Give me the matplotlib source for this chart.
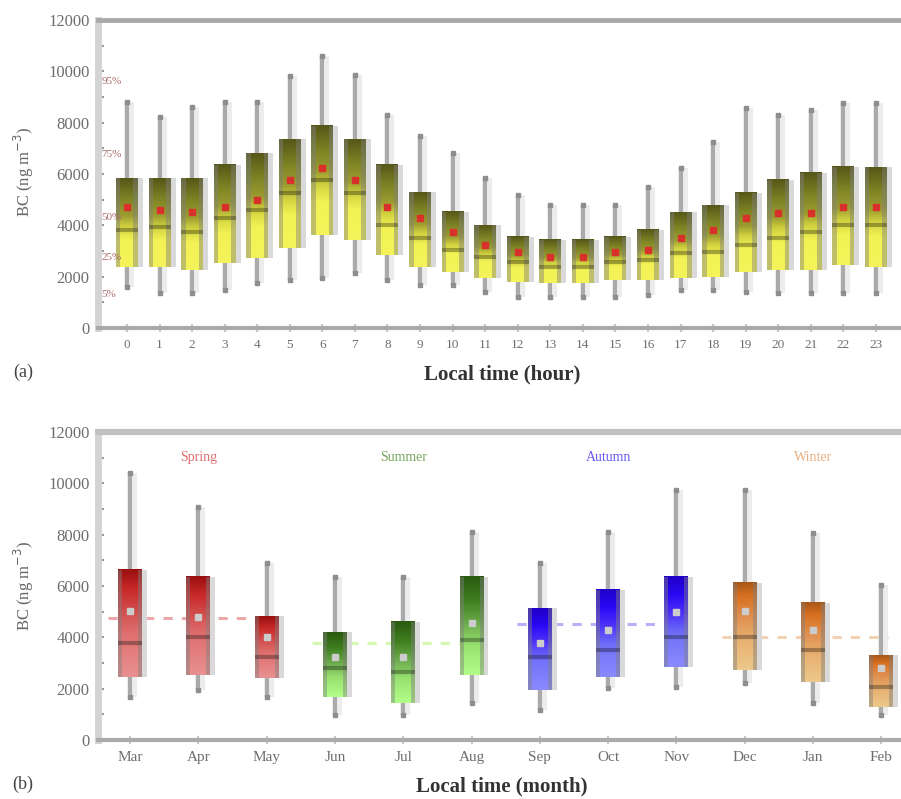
import matplotlib
matplotlib.use('Agg')
import matplotlib.pyplot as plt
import numpy as np
from matplotlib.colors import LinearSegmentedColormap
from matplotlib.patches import Rectangle

plt.rcParams['font.family'] = ['Liberation Serif', 'DejaVu Serif']

# ---- diurnal statistics of BC (ng m-3), hour 0..23 ----
hours = list(range(24))
hour_p95 = [8800, 8220, 8610, 8800, 8800, 9800, 10600, 9850, 8300, 7500, 6800, 5850,
            5180, 4800, 4800, 4800, 5500, 6230, 7250, 8570, 8300, 8500, 8770, 8770]
hour_p75 = [5840, 5840, 5840, 6350, 6820, 7350, 7870, 7360, 6350, 5300, 4520, 4010,
            3550, 3430, 3430, 3550, 3820, 4520, 4790, 5260, 5770, 6040, 6270, 6270]
hour_mean = [4710, 4600, 4520, 4710, 4990, 5770, 6230, 5770, 4710, 4290, 3740, 3230,
             2960, 2770, 2770, 2960, 3040, 3510, 3820, 4290, 4480, 4480, 4710, 4710]
hour_p50 = [3820, 3930, 3740, 4290, 4600, 5260, 5770, 5260, 4010, 3510, 3040, 2770,
            2570, 2380, 2380, 2570, 2650, 2920, 2960, 3230, 3510, 3740, 4010, 4010]
hour_p25 = [2380, 2380, 2260, 2530, 2730, 3120, 3620, 3430, 2840, 2380, 2180, 1950,
            1790, 1750, 1750, 1870, 1870, 1950, 1990, 2180, 2260, 2260, 2450, 2380]
hour_p5 = [1600, 1360, 1360, 1480, 1750, 1870, 1950, 2140, 1870, 1680, 1680, 1400,
           1210, 1210, 1210, 1210, 1290, 1480, 1480, 1400, 1360, 1360, 1360, 1360]

# ---- monthly statistics ----
months = ['Mar', 'Apr', 'May', 'Jun', 'Jul', 'Aug', 'Sep', 'Oct', 'Nov', 'Dec', 'Jan', 'Feb']
month_p95 = [10400, 9080, 6900, 6350, 6350, 8100, 6900, 8100, 9740, 9740, 8070, 6040]
month_p75 = [6620, 6350, 4830, 4210, 4600, 6350, 5140, 5840, 6350, 6120, 5340, 3310]
month_mean = [5030, 4790, 4010, 3230, 3230, 4560, 3780, 4290, 4990, 5030, 4290, 2810]
month_p50 = [3780, 4010, 3230, 2800, 2650, 3900, 3230, 3510, 4010, 4010, 3510, 2070]
month_p25 = [2450, 2530, 2420, 1680, 1440, 2530, 1950, 2450, 2840, 2730, 2260, 1290]
month_p5 = [1680, 1950, 1680, 970, 970, 1440, 1170, 2030, 2070, 2220, 1440, 970]

seasons = ['Spring', 'Summer', 'Autumn', 'Winter']
season_mean = [4750, 3780, 4520, 4010]

pct_labels = ['95%', '75%', '50%', '25%', '5%']
pct_label_y = [9600, 6750, 4300, 2750, 1300]

# colour ramps, bottom of box -> top of box
cmap_hour = LinearSegmentedColormap.from_list(
    'hour', [(0, '#f4f45a'), (0.3, '#f2f255'), (0.45, '#d2d240'), (0.58, '#9c9c30'),
             (0.78, '#7c8224'), (1.0, '#575718')])
season_cmaps = [
    LinearSegmentedColormap.from_list('spr', [(0, '#e89090'), (0.4, '#e07070'), (0.6, '#d25050'),
                                              (0.82, '#c82828'), (1.0, '#9a1010')]),
    LinearSegmentedColormap.from_list('sum', [(0, '#b2ff88'), (0.3, '#98e070'), (0.5, '#70b050'),
                                              (0.75, '#408020'), (1.0, '#2a5a10')]),
    LinearSegmentedColormap.from_list('aut', [(0, '#8a8aff'), (0.35, '#7272f8'), (0.6, '#4c30f8'),
                                              (0.8, '#2a08f5'), (1.0, '#2000c8')]),
    LinearSegmentedColormap.from_list('win', [(0, '#ecc88a'), (0.35, '#e8b070'), (0.6, '#e09050'),
                                              (0.85, '#d87020'), (1.0, '#a85818')]),
]
season_text_colors = ['#e07070', '#78a860', '#6a5cf5', '#e8b080']
season_line_colors = ['#eaa8a8', '#d4f8b0', '#b8b0fa', '#f2d2b2']

grad = np.linspace(0, 1, 64).reshape(-1, 1)


def draw_box(ax, x, lo, q1, med, q3, hi, mean, cmap, px, mean_color,
             w_out=22, w_in=13, shift=5):
    # shadow whisker and whisker
    ax.plot([x + shift * px] * 2, [lo, hi], color='#ececec', lw=3, zorder=1,
            solid_capstyle='butt')
    ax.plot([x, x], [lo, hi], color='#aaaaaa', lw=3.2, zorder=2, solid_capstyle='butt')
    ax.plot([x, x], [lo, hi], 's', color='#8e8e8e', ms=3, zorder=2)
    # light shadow box
    ax.add_patch(Rectangle((x - w_out / 2 * px + shift * px, q1), w_out * px, q3 - q1,
                           fc='#d9d9d9', ec='none', zorder=2))
    # coloured box
    ax.imshow(grad, extent=(x - w_out / 2 * px, x + w_out / 2 * px, q1, q3), cmap=cmap,
              aspect='auto', origin='lower', zorder=3, interpolation='bilinear')
    side = (w_out - w_in) / 2 * px
    for x0 in (x - w_out / 2 * px, x + w_in / 2 * px):
        ax.add_patch(Rectangle((x0, q1), side, q3 - q1, fc='#808080', alpha=0.45,
                               ec='none', zorder=4))
    ax.plot([x - w_out / 2 * px, x + w_out / 2 * px], [med, med], color='k', alpha=0.3,
            lw=3, zorder=5, solid_capstyle='butt')
    ax.plot(x, mean, 's', color=mean_color, ms=5, zorder=6)


def style_axes(ax, top_color, top_lw):
    ax.set_ylim(0, 12000)
    ax.set_yticks(range(0, 12001, 2000))
    ax.set_yticks(range(1000, 12000, 2000), minor=True)
    ax.spines['right'].set_visible(False)
    ax.spines['top'].set_color(top_color)
    ax.spines['top'].set_linewidth(top_lw)
    ax.spines['bottom'].set_color('#aaaaaa')
    ax.spines['bottom'].set_linewidth(3)
    ax.spines['left'].set_color('#d4d4d4')
    ax.spines['left'].set_linewidth(5)
    ax.tick_params(axis='y', which='both', direction='in', length=4, width=1.5,
                   color='#999999', labelsize=12, labelcolor='#6e6e6e', pad=6)
    ax.tick_params(axis='x', direction='inout', length=6, width=1.5, color='#c8c8c8',
                   labelcolor='#6e6e6e', pad=5)
    ax.set_facecolor('white')


fig = plt.figure(figsize=(9.01, 7.99), dpi=100)
W, H = 901, 799

# ---------------- (a) hourly ----------------
ax1 = fig.add_axes([98 / W, 1 - 328 / H, 803 / W, 308 / H])
px1 = 1 / 32.6
for i, h in enumerate(hours):
    draw_box(ax1, h, hour_p5[i], hour_p25[i], hour_p50[i], hour_p75[i], hour_p95[i],
             hour_mean[i], cmap_hour, px1, '#d8302a')
for lab, yv in zip(pct_labels, pct_label_y):
    ax1.text(-0.78, yv, lab, fontsize=8, color='#a86a6a', va='center', ha='left', zorder=7)
style_axes(ax1, '#a9a9a9', 3.5)
ax1.set_xlim(-0.89, 23.77)
ax1.set_xticks(hours)
ax1.set_xticklabels([str(h) for h in hours], fontsize=9.5)

fig.text(24 / W, 1 - 172 / H, 'BC (ng m$^{-3}$)', rotation=90, fontsize=12,
         color='#666666', ha='center', va='center')
fig.text(502 / W, 1 - 374 / H, 'Local time (hour)', fontsize=15, fontweight='bold',
         color='#333333', ha='center', va='center')
fig.text(23 / W, 1 - 372 / H, '(a)', fontsize=13, color='#444444', ha='center', va='center')

# ---------------- (b) monthly ----------------
ax2 = fig.add_axes([98 / W, 1 - 740 / H, 803 / W, 308 / H])
px2 = 1 / 68.3
for s in range(4):
    idx = [3 * s, 3 * s + 1, 3 * s + 2]
    ax2.plot([idx[0] - 0.33, idx[-1] + 0.1], [season_mean[s]] * 2, color=season_line_colors[s],
             lw=2.2, ls=(0, (3, 3)), zorder=1.5)
    ax2.text(idx[1], 11000, seasons[s], fontsize=10, color=season_text_colors[s],
             ha='center', va='center')
    for i in idx:
        draw_box(ax2, i, month_p5[i], month_p25[i], month_p50[i], month_p75[i],
                 month_p95[i], month_mean[i], season_cmaps[s], px2, '#cccccc',
                 w_out=24, w_in=16, shift=5)
style_axes(ax2, '#c2c2c2', 4.5)
ax2.set_xlim(-0.47, 11.29)
ax2.set_xticks(range(len(months)))
ax2.set_xticklabels(months, fontsize=11)

fig.text(24 / W, 1 - 586 / H, 'BC (ng m$^{-3}$)', rotation=90, fontsize=12,
         color='#666666', ha='center', va='center')
fig.text(502 / W, 1 - 786 / H, 'Local time (month)', fontsize=15, fontweight='bold',
         color='#333333', ha='center', va='center')
fig.text(23 / W, 1 - 784 / H, '(b)', fontsize=13, color='#444444', ha='center', va='center')

fig.savefig('out.png', dpi=100, facecolor='white')
